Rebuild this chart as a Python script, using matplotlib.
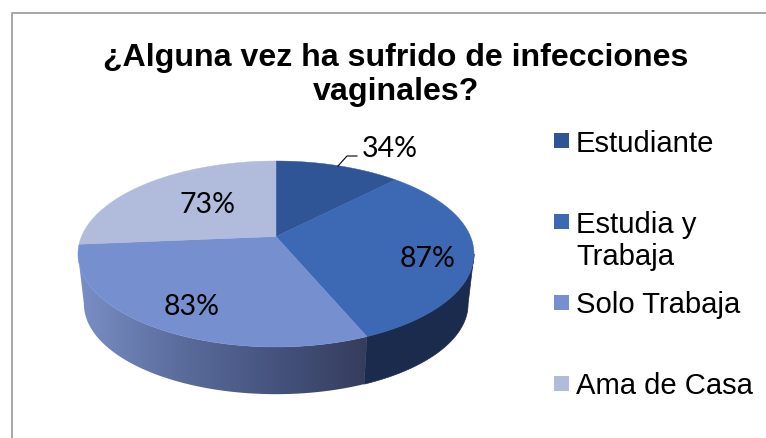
import numpy as np
import matplotlib
matplotlib.use("Agg")
import matplotlib.pyplot as plt
from matplotlib.colors import LinearSegmentedColormap
from matplotlib.patches import Polygon, Rectangle

categories = ["Estudiante", "Estudia y\nTrabaja", "Solo Trabaja", "Ama de Casa"]
values = [34, 87, 83, 73]
labels = ["34%", "87%", "83%", "73%"]
colors = ["#2F5597", "#3D68B3", "#758FCF", "#B1BCDD"]
title = "¿Alguna vez ha sufrido de infecciones\nvaginales?"

fig = plt.figure(figsize=(7.66, 4.39), dpi=100)
ax = fig.add_axes([0, 0, 1, 1])
ax.set_axis_off()

# frame
ax.plot([11.5, 11.5, 766], [439, 13.5, 13.5], color="#A6A6A6", lw=1.4, solid_capstyle="butt")

# perspective projection of the pie disk
CX, CY, A, B, K = 276.0, 237.5, 194.5, 89.7, 0.188
def project(theta):
    u, v = np.sin(theta), np.cos(theta)
    d = 1 + K * v
    return CX + A * u / d, CY - B * v / d

def lower(x, y):
    s = 0.97
    return 275.5 + (x - 275.5) * s, 305 + (y - 255) * s

fractions = np.cumsum([0] + values) / sum(values)
edges = 2 * np.pi * fractions
right_sil = np.pi / 2 + np.arcsin(K)
left_sil = 3 * np.pi / 2 - np.arcsin(K)

def wall(t0, t1):
    t = np.linspace(t0, t1, 120)
    x, y = project(t)
    xb, yb = lower(x, y)
    return np.column_stack([np.r_[x, xb[::-1]], np.r_[y, yb[::-1]]])

# side walls
ax.add_patch(Polygon(wall(right_sil, edges[2]), closed=True, fc="#1A2B4E", ec="#1A2B4E", lw=0.5, zorder=2))
grad = LinearSegmentedColormap.from_list("w", ["#7A8FC6", "#5C6E9E", "#46547F", "#353D5C"])
pts = wall(edges[2], left_sil)
clip = Polygon(pts, closed=True, fc="none", ec="none", transform=ax.transData)
ax.add_patch(clip)
im = ax.imshow(np.linspace(0, 1, 256)[None, :], extent=[pts[:, 0].min(), pts[:, 0].max(), 400, 230],
               cmap=grad, aspect="auto", zorder=2, interpolation="bilinear")
im.set_clip_path(clip)

# top face
for i, c in enumerate(colors):
    t = np.linspace(edges[i], edges[i + 1], 150)
    x, y = project(t)
    ax.add_patch(Polygon(np.column_stack([np.r_[CX, x], np.r_[CY, y]]), closed=True,
                         fc=c, ec=c, lw=0.3, zorder=3))

# data labels
lab_font = dict(family="Lato", fontsize=20.5, color="#000000", ha="center", va="baseline", zorder=5)
ax.text(389.5, 157, labels[0], **lab_font)
ax.text(427.5, 267, labels[1], **lab_font)
ax.text(191.5, 315, labels[2], **lab_font)
ax.text(207.5, 213, labels[3], **lab_font)
ax.plot([338, 347, 357], [167, 157, 157], color="#000000", lw=0.8, zorder=5)

# title
t1, t2 = title.split("\n")
ax.text(396, 66, t1, family="Liberation Sans", fontweight="bold", fontsize=23.1, ha="center", va="baseline", color="#000000")
ax.text(396, 100.5, t2, family="Liberation Sans", fontweight="bold", fontsize=23.1, ha="center", va="baseline", color="#000000")

# legend
leg_font = dict(family="Liberation Sans", fontsize=21.1, color="#000000", ha="left", va="baseline")
for c, ytop, cat, bases in zip(colors, [134, 215, 296, 377], categories,
                               [[152], [233, 265], [313], [394]]):
    ax.add_patch(Rectangle((554, ytop), 15, 15, fc=c, ec="none"))
    for line, b in zip(cat.split("\n"), bases):
        ax.text(576, b, line, **leg_font)

ax.set_xlim(0, 766)
ax.set_ylim(439, 0)
fig.savefig("out.png", dpi=100, facecolor="white")
